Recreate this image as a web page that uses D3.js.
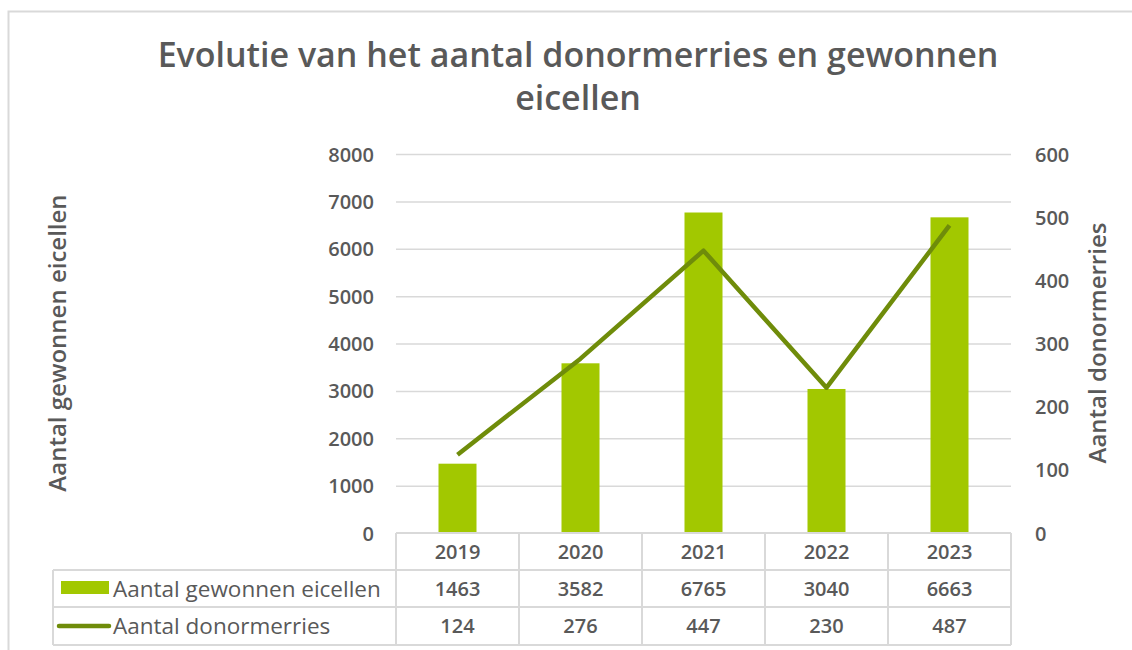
<!DOCTYPE html>
<html><head><meta charset="utf-8">
<script src="https://cdn.jsdelivr.net/npm/d3@7"></script>
<style>body{margin:0;background:#fff;} text{font-family:"Open Sans",sans-serif;}</style>
</head><body>
<svg id="c" width="1132" height="650"></svg>
<script>
const years = ["2019","2020","2021","2022","2023"];
const eicellen = [1463,3582,6765,3040,6663];
const merries = [124,276,447,230,487];
const leftTicks = [0,1000,2000,3000,4000,5000,6000,7000,8000];
const rightTicks = [0,100,200,300,400,500,600];
const seriesNames = ["Aantal gewonnen eicellen","Aantal donormerries"];
const titleLines = ["Evolutie van het aantal donormerries en gewonnen","eicellen"];

const svg = d3.select("#c");
const txt = "#595959", grid = "#d9d9d9", barC = "#a2c800", lineC = "#6f8c0a";

// frame
svg.append("path").attr("d","M8.5,650 L8.5,11.5 L1132,11.5").attr("fill","none").attr("stroke","#d9d9d9").attr("stroke-width",2);

const x0 = 396, x1 = 1011, yTop = 154, yBot = 533;
const x = d3.scaleBand().domain(years).range([x0,x1]);
const yL = d3.scaleLinear().domain([0,8000]).range([yBot,yTop]);
const yR = d3.scaleLinear().domain([0,600]).range([yBot,yTop]);

// title
svg.append("g").selectAll("text").data(titleLines).join("text")
  .attr("x",578).attr("y",(d,i)=>67+i*43).attr("text-anchor","middle")
  .attr("font-size",34).attr("font-weight",600).attr("fill",txt).text(d=>d);

// gridlines
svg.append("g").selectAll("line").data(leftTicks.filter(d=>d>0)).join("line")
  .attr("x1",x0).attr("x2",x1).attr("y1",d=>yL(d)+0.5).attr("y2",d=>yL(d)+0.5)
  .attr("stroke",grid).attr("stroke-width",1.5);

// left axis
const la = svg.append("g").attr("transform",`translate(${x0},0)`).call(d3.axisLeft(yL).tickValues(leftTicks).tickFormat(d3.format("d")).tickSize(0).tickPadding(22));
la.select(".domain").remove();
la.selectAll("text").attr("font-size",20).attr("font-weight",600).attr("fill",txt).attr("font-family","Open Sans").attr("dy","0.35em");

// right axis
const ra = svg.append("g").attr("transform",`translate(${x1},0)`).call(d3.axisRight(yR).tickValues(rightTicks).tickFormat(d3.format("d")).tickSize(0).tickPadding(24));
ra.select(".domain").remove();
ra.selectAll("text").attr("font-size",20).attr("font-weight",600).attr("fill",txt).attr("font-family","Open Sans").attr("dy","0.35em");

// axis titles
svg.append("text").attr("transform","translate(66,343) rotate(-90)").attr("text-anchor","middle")
  .attr("font-size",24).attr("font-weight",600).attr("fill",txt).text("Aantal gewonnen eicellen");
svg.append("text").attr("transform","translate(1106,343) rotate(-90)").attr("text-anchor","middle")
  .attr("font-size",24).attr("font-weight",600).attr("fill",txt).text("Aantal donormerries");

// bars
const bw = 38;
svg.append("g").selectAll("rect").data(eicellen).join("rect")
  .attr("x",(d,i)=>x(years[i])+x.bandwidth()/2-bw/2).attr("width",bw)
  .attr("y",d=>yL(d)).attr("height",d=>yBot-yL(d)).attr("fill",barC);

// line
const line = d3.line().x((d,i)=>x(years[i])+x.bandwidth()/2).y(d=>yR(d));
svg.append("path").datum(merries).attr("d",line).attr("fill","none").attr("stroke",lineC).attr("stroke-width",4.5).attr("stroke-linejoin","round");

// data table
const rows = [yBot, 570, 607, 645];
const tl = 53;
const tg = svg.append("g").attr("stroke",grid).attr("stroke-width",2).attr("fill","none");
tg.append("line").attr("x1",x0).attr("x2",x1).attr("y1",rows[0]).attr("y2",rows[0]);
[1,2,3].forEach(r=>tg.append("line").attr("x1",tl).attr("x2",x1).attr("y1",rows[r]).attr("y2",rows[r]));
years.forEach((y,i)=>tg.append("line").attr("x1",x(y)).attr("x2",x(y)).attr("y1",rows[0]).attr("y2",rows[3]));
tg.append("line").attr("x1",x1).attr("x2",x1).attr("y1",rows[0]).attr("y2",rows[3]);
tg.append("line").attr("x1",tl).attr("x2",tl).attr("y1",rows[1]).attr("y2",rows[3]);

const cell = (t,cx,r)=>svg.append("text").attr("x",cx).attr("y",(rows[r]+rows[r+1])/2).attr("dy","0.36em")
  .attr("text-anchor","middle").attr("font-size",20).attr("font-weight",600).attr("fill",txt).text(t);
years.forEach((y,i)=>{
  const cx = x(y)+x.bandwidth()/2;
  cell(y,cx,0); cell(eicellen[i],cx,1); cell(merries[i],cx,2);
});
// legend
svg.append("rect").attr("x",61).attr("y",581).attr("width",48).attr("height",13).attr("fill",barC);
svg.append("line").attr("x1",59).attr("x2",109).attr("y1",626).attr("y2",626).attr("stroke",lineC).attr("stroke-width",4.5).attr("stroke-linecap","round");
seriesNames.forEach((n,i)=>svg.append("text").attr("x",113).attr("y",(rows[i+1]+rows[i+2])/2).attr("dy","0.36em")
  .attr("font-size",22.5).attr("font-weight",500).attr("fill",txt).text(n));
</script>
</body></html>
